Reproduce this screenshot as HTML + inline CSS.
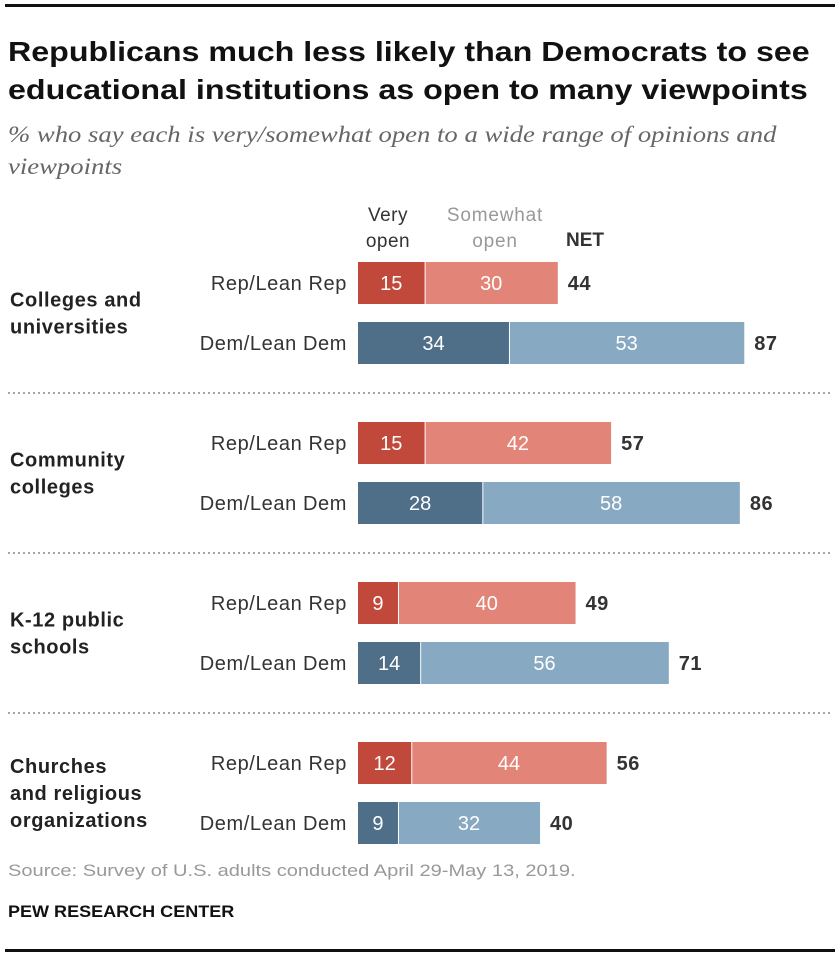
<!DOCTYPE html>
<html><head><meta charset="utf-8"><style>
body{margin:0;background:#fff;font-family:"Liberation Sans",Arial,sans-serif;}
#wrap{position:relative;width:840px;height:962px;overflow:hidden;}
.t{position:absolute;white-space:nowrap;transform-origin:0 0;}
</style></head><body>
<div id="wrap">
<div class="t" style="left:5px;top:4px;width:830px;height:3px;background:#111"></div>
<div class="t" style="left:8px;top:33px;font-size:28px;font-weight:bold;line-height:38px;color:#111;transform:scaleX(1.15)">Republicans much less likely than Democrats to see<br>educational institutions as open to many viewpoints</div>
<div class="t" style="left:8px;top:119px;font-family:'Liberation Serif',serif;font-style:italic;font-size:23px;line-height:32px;color:#666;transform:scaleX(1.16)">% who say each is very/somewhat open to a wide range of opinions and<br>viewpoints</div>
<div class="t" style="left:353px;top:203px;width:70px;text-align:center;font-size:19px;letter-spacing:0.5px;line-height:26px;color:#333">Very<br>open</div>
<div class="t" style="left:432px;top:203px;width:126px;text-align:center;font-size:19px;letter-spacing:0.8px;line-height:26px;color:#999">Somewhat<br>open</div>
<div class="t" style="left:566px;top:230px;font-size:19px;font-weight:bold;color:#333">NET</div>
<svg id="chart" width="840" height="962" style="position:absolute;left:0;top:0"></svg>
<div class="t" style="left:8px;top:861px;font-size:17px;color:#999;transform:scaleX(1.18)">Source: Survey of U.S. adults conducted April 29-May 13, 2019.</div>
<div class="t" style="left:8px;top:902px;font-size:17px;font-weight:bold;color:#111;transform:scaleX(1.06)">PEW RESEARCH CENTER</div>
<div class="t" style="left:5px;top:949px;width:830px;height:3px;background:#111"></div>
</div>
<script>
const categories=["Colleges and\nuniversities","Community\ncolleges","K-12 public\nschools","Churches\nand religious\norganizations"];
const groups=["Rep/Lean Rep","Dem/Lean Dem"];
const repVery=[15,15,9,12];
const repSome=[30,42,40,44];
const repNet=[44,57,49,56];
const demVery=[34,28,14,9];
const demSome=[53,58,56,32];
const demNet=[87,86,71,40];
const NS="http://www.w3.org/2000/svg";
const svg=document.getElementById('chart');
const x0=358,scale=4.44;
const xs=v=>v*scale;
const rowTop=[262,422,582,742],rowGap=60,barH=42;
function mk(tag,attrs){const e=document.createElementNS(NS,tag);for(const k in attrs)e.setAttribute(k,attrs[k]);svg.appendChild(e);return e;}
function txt(x,y,s,opts){const e=mk('text',Object.assign({x:x,y:y,'font-family':'Liberation Sans, Arial, sans-serif','font-size':18},opts));e.textContent=s;return e;}
const cols=[["#c0493c","#e38478"],["#4f6e88","#87a9c2"]];
categories.forEach((c,i)=>{
  const lines=c.split("\n");
  const cy=rowTop[i]+51;
  const lt=cy-(lines.length-1)*27/2;
  lines.forEach((l,j)=>{
    const e=txt(10,lt+j*27+7,l,{'font-weight':'bold','fill':'#222','font-size':20,'letter-spacing':0.6});
    
    
  });
  if(i<3){
    const ln=mk('line',{x1:8,x2:832,y1:rowTop[i]+131,y2:rowTop[i]+131,stroke:'#888','stroke-width':1.5,'stroke-dasharray':'2,3'});
    
    
  }
  [[repVery[i],repSome[i],repNet[i]],[demVery[i],demSome[i],demNet[i]]].forEach((d,g)=>{
    const y=rowTop[i]+g*rowGap;
    const gl=txt(347,y+barH/2+7,groups[g],{'text-anchor':'end','fill':'#333','font-size':20,'letter-spacing':0.6});
    
    
    const w1=xs(d[0]),w2=xs(d[1]);
    const b1=mk('rect',{x:x0,y:y,width:w1,height:barH,fill:cols[g][0]});
    
    
    const b2=mk('rect',{x:x0+w1+1,y:y,width:w2-1,height:barH,fill:cols[g][1]});
    
    
    const v1=txt(x0+w1/2,y+barH/2+7,String(d[0]),{'text-anchor':'middle','fill':'#fff','font-size':20});
    
    
    const v2=txt(x0+w1+w2/2,y+barH/2+7,String(d[1]),{'text-anchor':'middle','fill':'#fff','font-size':20});
    
    
    const n=txt(x0+w1+w2+10,y+barH/2+7,String(d[2]),{'font-weight':'bold','fill':'#333','font-size':20,'letter-spacing':0.5});
    
    
  });
});
</script>
</body></html>
